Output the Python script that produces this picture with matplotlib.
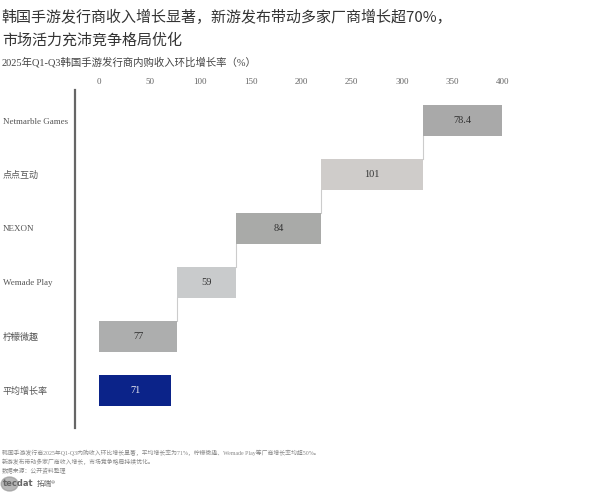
import numpy as np
import matplotlib.pyplot as plt
from matplotlib.patches import Circle

plt.rcParams['font.family'] = ['Liberation Serif', 'Noto Sans CJK SC', 'DejaVu Sans']

# data (bottom to top)
companies = ['平均增长率', '柠檬微趣', 'Wemade Play', 'NEXON', '点点互动', 'Netmarble Games']
growth = [71, 77, 59, 84, 101, 78.4]
value_labels = ['71', '77', '59', '84', '101', '78.4']
colors = ['#0b2389', '#adaeae', '#c9cbcc', '#a9aaa8', '#cfccca', '#a9a9a9']
ticks = [0, 50, 100, 150, 200, 250, 300, 350, 400]

# waterfall starts: average bar stands alone, the rest stack up from 0
starts = [0]
run = 0
for g in growth[1:]:
    starts.append(run)
    run += g

fig = plt.figure(figsize=(6, 5), dpi=100)
ax = fig.add_axes([0.125, 0.144, 0.7467, 0.676])

y = np.arange(len(companies))
h = 0.575
ax.barh(y, growth, left=starts, height=h, color=colors, edgecolor='none')

# value labels
for i in range(len(companies)):
    c = '#e8e8f0' if i == 0 else '#333333'
    ax.text(starts[i] + growth[i] / 2, y[i], value_labels[i], ha='center', va='center',
            fontsize=7.5, color=c)

# connectors between stacked bars
for i in range(1, len(companies) - 1):
    xe = starts[i] + growth[i]
    ax.plot([xe, xe], [y[i] + h / 2, y[i + 1] - h / 2], color='#cccccc', lw=0.8)

ax.set_xlim(-24, 420)
ax.set_ylim(-0.705, 5.57)
ax.xaxis.tick_top()
ax.set_xticks(ticks)
ax.set_xticklabels([str(t) for t in ticks], fontsize=6.5, color='#666666')
ax.set_yticks(y)
ax.set_yticklabels(companies, fontsize=6.5, color='#555555', ha='left')
ax.tick_params(axis='x', length=0, pad=3)
ax.tick_params(axis='y', length=0, pad=52)

for s in ['top', 'right', 'bottom']:
    ax.spines[s].set_visible(False)
ax.spines['left'].set_color('#666666')
ax.spines['left'].set_linewidth(1.6)

# titles
fig.text(0.003, 0.966, '韩国手游发行商收入增长显著，新游发布带动多家厂商增长超70%，',
         fontsize=10.8, color='#333333', va='center', family=['Noto Sans CJK SC'])
fig.text(0.003, 0.919, '市场活力充沛竞争格局优化',
         fontsize=10.8, color='#333333', va='center', family=['Noto Sans CJK SC'])
fig.text(0.003, 0.876, '2025年Q1-Q3韩国手游发行商内购收入环比增长率（%）',
         fontsize=7.5, color='#444444', va='center')

# footnotes
fig.text(0.003, 0.094, '韩国手游发行商2025年Q1-Q3内购收入环比增长显著，平均增长率为71%，柠檬微趣、Wemade Play等厂商增长率均超50%。',
         fontsize=4.2, color='#888888', va='center')
fig.text(0.003, 0.076, '新游发布带动多家厂商收入增长，市场竞争格局持续优化。',
         fontsize=4.2, color='#888888', va='center')
fig.text(0.003, 0.058, '数据来源：公开资料整理',
         fontsize=4.2, color='#888888', va='center')

# logo
fig.patches.append(Circle((0.016, 0.032), 0.014, transform=fig.transFigure,
                          color='#999999', alpha=0.7))
fig.text(0.004, 0.032, 'tecdat', fontsize=6, color='#666666', va='center',
         weight='bold', family=['DejaVu Sans'])
fig.text(0.062, 0.032, '拓端®', fontsize=5.5, color='#666666', va='center',
         family=['Noto Sans CJK SC'])

fig.savefig('out.png', dpi=100)
